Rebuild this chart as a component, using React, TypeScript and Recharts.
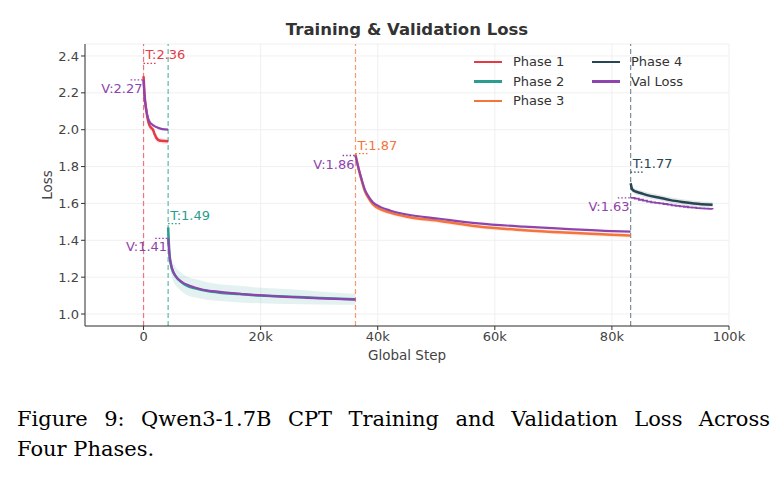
import React from "react";
import {
  ComposedChart,
  Line,
  Area,
  XAxis,
  YAxis,
  CartesianGrid,
  ReferenceLine,
  Label,
} from "recharts";

const FONT = "DejaVu Sans, sans-serif";
const PHASE_COLORS = ["#E63946", "#2A9D8F", "#F4743B", "#264653"];
const VAL_COLOR = "#8E44AD";

const xTicks = [0, 20000, 40000, 60000, 80000, 100000];
const yTicks = [1.0, 1.2, 1.4, 1.6, 1.8, 2.0, 2.2, 2.4];

// Phase 1
const p1Steps = [0, 150, 450, 700, 1000, 1300, 1600, 1900, 2200, 2500, 3000, 4200];
const p1Train = [2.29, 2.2, 2.11, 2.06, 2.025, 2.01, 2.0, 1.975, 1.955, 1.945, 1.94, 1.937];
const p1Spread = [0, 0.03, 0.025, 0.02, 0.02, 0.02, 0.02, 0.02, 0.02, 0.015, 0.015, 0.015];
const p1TrainPeak = 2.36;
const p1ValSteps = [0, 150, 450, 700, 1000, 1600, 2500, 3200, 4200];
const p1Val = [2.27, 2.19, 2.11, 2.07, 2.045, 2.025, 2.01, 2.003, 2.0];

// Phase 2
const p2Steps = [4200, 4400, 4700, 5100, 5600, 6400, 7300, 9000, 10700, 13000, 16400, 20000, 25000, 30000, 36200];
const p2Train = [1.47, 1.34, 1.265, 1.225, 1.2, 1.175, 1.155, 1.138, 1.126, 1.116, 1.108, 1.1, 1.094, 1.087, 1.08];
const p2Spread = [0, 0.03, 0.04, 0.05, 0.05, 0.05, 0.05, 0.05, 0.048, 0.045, 0.045, 0.042, 0.04, 0.035, 0.03];
const p2TrainPeak = 1.49;
const p2ValSteps = [4200, 4500, 4900, 5500, 6500, 8000, 10000, 13000, 17000, 22000, 28000, 36200];
const p2Val = [1.41, 1.3, 1.245, 1.205, 1.175, 1.152, 1.133, 1.12, 1.108, 1.097, 1.088, 1.078];

// Phase 3
const p3Steps = [36200, 36500, 36900, 37300, 37800, 38500, 39200, 40500, 42100, 45000, 50600, 57200, 65000, 72000, 80000, 83200];
const p3Train = [1.865, 1.82, 1.766, 1.72, 1.667, 1.625, 1.595, 1.568, 1.55, 1.528, 1.505, 1.475, 1.455, 1.442, 1.43, 1.426];
const p3Spread = [0, 0.01, 0.012, 0.012, 0.012, 0.012, 0.012, 0.012, 0.012, 0.012, 0.012, 0.012, 0.012, 0.012, 0.012, 0.012];
const p3TrainPeak = 1.87;
const p3ValSteps = p3Steps;
const p3Val = [1.86, 1.82, 1.77, 1.725, 1.675, 1.634, 1.605, 1.58, 1.562, 1.54, 1.517, 1.492, 1.474, 1.462, 1.45, 1.447];

// Phase 4
const p4Steps = [83200, 83500, 84000, 85000, 86000, 88000, 90000, 92000, 94000, 97200];
const p4Train = [1.71, 1.675, 1.665, 1.655, 1.645, 1.632, 1.618, 1.608, 1.6, 1.593];
const p4Spread = [0, 0.015, 0.015, 0.015, 0.015, 0.015, 0.015, 0.015, 0.015, 0.015];
const p4TrainPeak = 1.77;
const p4ValSteps = [83200, 83900, 84600, 85300, 86000, 86700, 87400, 88100, 88800, 89500, 90200, 90900, 91600, 92300, 93000, 93700, 94400, 95100, 95800, 96500, 97200];
const p4Val = [1.63, 1.626, 1.62, 1.615, 1.61, 1.606, 1.603, 1.6, 1.597, 1.593, 1.59, 1.587, 1.584, 1.582, 1.579, 1.577, 1.575, 1.573, 1.572, 1.57, 1.569];

const legendItems = [
  { name: "Phase 1", color: PHASE_COLORS[0] },
  { name: "Phase 2", color: PHASE_COLORS[1] },
  { name: "Phase 3", color: PHASE_COLORS[2] },
  { name: "Phase 4", color: PHASE_COLORS[3] },
  { name: "Val Loss", color: VAL_COLOR },
];

const toPoints = (steps: number[], values: number[]) =>
  steps.map((step, i) => ({ step, loss: values[i] }));

const toBand = (steps: number[], values: number[], spread: number[], peak: number) =>
  steps.map((step, i) => ({
    step,
    band: [values[i] - spread[i], i === 0 ? peak : values[i] + spread[i]],
  }));

const phases = [
  { steps: p1Steps, train: p1Train, spread: p1Spread, peak: p1TrainPeak, valSteps: p1ValSteps, val: p1Val },
  { steps: p2Steps, train: p2Train, spread: p2Spread, peak: p2TrainPeak, valSteps: p2ValSteps, val: p2Val },
  { steps: p3Steps, train: p3Train, spread: p3Spread, peak: p3TrainPeak, valSteps: p3ValSteps, val: p3Val },
  { steps: p4Steps, train: p4Train, spread: p4Spread, peak: p4TrainPeak, valSteps: p4ValSteps, val: p4Val },
].map((p, i) => ({
  ...p,
  color: PHASE_COLORS[i],
  start: p.steps[0],
  trainData: toPoints(p.steps, p.train),
  valData: toPoints(p.valSteps, p.val),
  bandData: toBand(p.steps, p.train, p.spread, p.peak),
}));

// phase boundary lines, faded phase colours
const boundaryColors = ["#EF7580", "#5FB8AD", "#F79A70", "#7C8E97"];

const MARK_LEN = 2200;

const fmtStep = (v: number) => (v === 0 ? "0" : `${v / 1000}k`);

function trainLabel(text: string, color: string) {
  return (props: any) => {
    const vb = props.viewBox;
    return (
      <text x={vb.x + 2} y={vb.y - 4} fill={color} fontSize={13} fontFamily={FONT}>
        {text}
      </text>
    );
  };
}

function valLabel(text: string) {
  return (props: any) => {
    const vb = props.viewBox;
    return (
      <text
        x={vb.x + vb.width - 1}
        y={vb.y + 13}
        fill={VAL_COLOR}
        fontSize={13}
        fontFamily={FONT}
        textAnchor="end"
      >
        {text}
      </text>
    );
  };
}

function LegendBox() {
  const cols = [legendItems.slice(0, 3), legendItems.slice(3)];
  return (
    <div
      style={{
        position: "absolute",
        left: 474,
        top: 52,
        display: "flex",
        fontFamily: FONT,
        fontSize: 13,
        color: "#333",
      }}
    >
      {cols.map((col, ci) => (
        <div key={ci} style={{ width: 118 }}>
          {col.map((item) => (
            <div key={item.name} style={{ display: "flex", alignItems: "center", height: 19.5 }}>
              <span style={{ width: 28, height: 2.5, background: item.color, marginRight: 11 }} />
              <span>{item.name}</span>
            </div>
          ))}
        </div>
      ))}
    </div>
  );
}

export default function App() {
  return (
    <div style={{ position: "absolute", left: 0, top: 0, width: 784, height: 477, background: "#fff" }}>
      <div
        style={{
          position: "absolute",
          left: 85,
          width: 644,
          top: 20,
          textAlign: "center",
          fontFamily: FONT,
          fontWeight: "bold",
          fontSize: 16.5,
          color: "#333",
        }}
      >
        Training &amp; Validation Loss
      </div>
      <div style={{ position: "absolute", left: 0, top: 0 }}>
        <ComposedChart width={784} height={380} margin={{ top: 44, right: 55, left: 45, bottom: 24 }}>
          <CartesianGrid stroke="#ececec" strokeWidth={0.8} />
          <XAxis
            dataKey="step"
            type="number"
            domain={[-10000, 100000]}
            ticks={xTicks}
            tickFormatter={fmtStep}
            allowDataOverflow
            height={30}
            tick={{ fontSize: 13, fill: "#444", fontFamily: FONT }}
            stroke="#333"
            tickSize={4}
          >
            <Label
              content={() => (
                <text x={407} y={360} textAnchor="middle" fontSize={13.5} fill="#444" fontFamily={FONT}>
                  Global Step
                </text>
              )}
            />
          </XAxis>
          <YAxis
            type="number"
            domain={[0.935, 2.465]}
            ticks={yTicks}
            tickFormatter={(v: number) => v.toFixed(1)}
            allowDataOverflow
            width={40}
            tick={{ fontSize: 13, fill: "#444", fontFamily: FONT }}
            stroke="#333"
            tickSize={4}
          >
            <Label
              content={() => (
                <text
                  x={52}
                  y={185}
                  transform="rotate(-90 52 185)"
                  textAnchor="middle"
                  fontSize={13.5}
                  fill="#444"
                  fontFamily={FONT}
                >
                  Loss
                </text>
              )}
            />
          </YAxis>

          {phases.map((p, i) => (
            <ReferenceLine
              key={`vl${i}`}
              x={p.start}
              stroke={boundaryColors[i]}
              strokeDasharray="5 3"
              strokeWidth={1.2}
            />
          ))}

          {phases.map((p, i) => (
            <Area
              key={`band${i}`}
              data={p.bandData}
              dataKey="band"
              type="monotone"
              stroke="none"
              fill={p.color}
              fillOpacity={0.13}
              isAnimationActive={false}
              legendType="none"
            />
          ))}

          {phases.map((p, i) => (
            <Line
              key={`tr${i}`}
              data={p.trainData}
              dataKey="loss"
              type="monotone"
              stroke={p.color}
              strokeWidth={2.5}
              dot={false}
              isAnimationActive={false}
            />
          ))}

          {phases.map((p, i) => (
            <Line
              key={`val${i}`}
              data={p.valData}
              dataKey="loss"
              type={i === 3 ? "stepAfter" : "monotone"}
              stroke={VAL_COLOR}
              strokeWidth={i === 3 ? 1.8 : 2.2}
              dot={false}
              isAnimationActive={false}
            />
          ))}

          {phases.map((p, i) => (
            <ReferenceLine
              key={`tm${i}`}
              segment={[
                { x: p.start, y: p.peak },
                { x: p.start + MARK_LEN, y: p.peak },
              ]}
              stroke={p.color}
              strokeDasharray="1.5 2"
              strokeWidth={1.3}
              label={trainLabel(`T:${p.peak.toFixed(2)}`, p.color)}
            />
          ))}

          {phases.map((p, i) => (
            <ReferenceLine
              key={`vm${i}`}
              segment={[
                { x: p.start - MARK_LEN, y: p.val[0] },
                { x: p.start, y: p.val[0] },
              ]}
              stroke={VAL_COLOR}
              strokeDasharray="1.5 2"
              strokeWidth={1.3}
              label={valLabel(`V:${p.val[0].toFixed(2)}`)}
            />
          ))}
        </ComposedChart>
      </div>
      <LegendBox />
      <div
        style={{
          position: "absolute",
          left: 17,
          top: 404,
          width: 753,
          fontFamily: "DejaVu Serif, serif",
          fontSize: 21,
          lineHeight: "30px",
          color: "#000",
        }}
      >
        <div style={{ textAlign: "justify", textAlignLast: "justify" }}>
          Figure 9: Qwen3-1.7B CPT Training and Validation Loss Across
        </div>
        <div>Four Phases.</div>
      </div>
    </div>
  );
}
